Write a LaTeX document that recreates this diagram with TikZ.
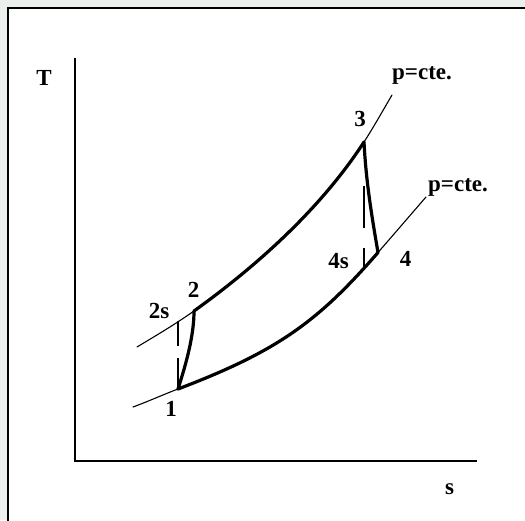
\documentclass[tikz,border=0pt]{standalone}
\usepackage{fontspec}
\setmainfont{Liberation Serif}
\definecolor{wash}{RGB}{236,240,236}

\begin{document}
\begin{tikzpicture}[
  x=1pt, y=1pt,
  font=\fontsize{23}{26}\selectfont\bfseries,
  frame/.style={line width=1.8pt, fill=white},
  axis/.style={line width=1.3pt},
  isobar/.style={line width=1.1pt, line cap=round},
  process/.style={line width=3.2pt, line cap=round, line join=round},
  ideal/.style={line width=1.2pt},
  lbl/.style={anchor=base, inner sep=0pt},
  plbl/.style={anchor=base west, inner sep=0pt},
]
  \useasboundingbox (0,0) rectangle (525,520);
  \fill[wash] (0,0) rectangle (525,520);
  \clip (0,0) rectangle (525,520);
  \draw[frame] (8,-10) rectangle (540,512);

  \coordinate (O) at (75,59);
  \coordinate (Ttop) at (75,462);
  \coordinate (send) at (477,59);
  \draw[axis] (Ttop) -- (O) -- (send);
  \node[lbl] (Tlbl) at (44,434) {T};
  \node[lbl] (slbl) at (449.5,26) {s};

  \coordinate (hiA) at (137,173);
  \coordinate (hiB) at (392,425);
  \coordinate (loA) at (133,113);
  \coordinate (loB) at (426,323);
  \coordinate (st1) at (178,131);
  \coordinate (st2s) at (178,198.5);
  \coordinate (st2) at (194,209);
  \coordinate (st3) at (364,378);
  \coordinate (st4s) at (364,251.7);
  \coordinate (st4) at (378,267.5);

  \draw[isobar] (hiA) .. controls +(20,12) and +(-20,-14) .. (st2);
  \draw[isobar] (st3) .. controls +(10,15.5) and +(-10,-17) .. (hiB);
  \draw[isobar] (loA) .. controls +(15,5.5) and +(-15,-5.7) .. (st1);
  \draw[isobar] (st4) .. controls +(16,18.4) and +(-16,-18.5) .. (loB);

  \draw[process] (st2) .. controls +(60,43) and +(-44,-68) .. (st3);
  \draw[process] (st1) .. controls +(100,38) and +(-60,-69) .. (st4);
  \draw[process] (st1) .. controls +(8,25) and +(0,-25) .. (st2);
  \draw[process] (st3) .. controls +(2,-40) and +(-6,35) .. (st4);

  \draw[ideal, dash pattern=on 31pt off 12pt] (st1) -- (st2s);
  \draw[ideal, dash pattern=on 20pt off 20pt on 42pt off 60pt] (st4s) -- (st3);

  \node[lbl] (lbl1) at (171,103) {1};
  \node[lbl] (lbl2) at (193.5,222) {2};
  \node[lbl] (lbl2s) at (159,201) {2s};
  \node[lbl] (lbl3) at (360,393) {3};
  \node[lbl] (lbl4s) at (338.5,251) {4s};
  \node[lbl] (lbl4) at (405.5,253) {4};
  \node[plbl] (phigh) at (392,440) {p=cte.};
  \node[plbl] (plow) at (428,328) {p=cte.};
\end{tikzpicture}
\end{document}
